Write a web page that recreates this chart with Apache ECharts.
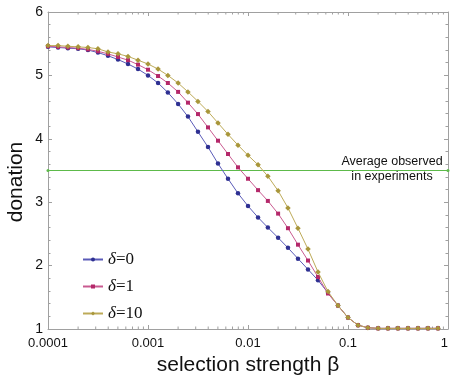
<!DOCTYPE html>
<html><head><meta charset="utf-8">
<script src="https://cdn.jsdelivr.net/npm/echarts@6/dist/echarts.min.js"></script>
<style>html,body{margin:0;padding:0;background:#fff}#c{width:451px;height:382px}</style>
</head><body><div id="c"></div>
<script>
// selection strength beta (x values)
const betas = [0.0001,0.000126,0.000158,0.0002,0.000251,0.000316,0.000398,0.000501,0.000631,0.000794,
  0.001,0.00126,0.00158,0.002,0.00251,0.00316,0.00398,0.00501,0.00631,0.00794,
  0.01,0.0126,0.0158,0.02,0.0251,0.0316,0.0398,0.0501,0.0631,0.0794,
  0.1,0.126,0.158,0.2,0.251,0.316,0.398,0.501,0.631,0.794];
const donationDelta0 = [5.45,5.44,5.43,5.42,5.40,5.36,5.31,5.25,5.18,5.10,
  5.00,4.88,4.73,4.55,4.35,4.11,3.87,3.61,3.37,3.14,
  2.94,2.76,2.60,2.44,2.28,2.11,1.94,1.77,1.57,1.37,
  1.18,1.06,1.02,1.01,1.01,1.01,1.01,1.01,1.01,1.01];
const donationDelta1 = [5.46,5.45,5.44,5.43,5.41,5.38,5.34,5.29,5.24,5.17,
  5.09,4.99,4.88,4.74,4.57,4.39,4.18,3.97,3.76,3.55,
  3.37,3.19,3.02,2.82,2.59,2.33,2.08,1.82,1.56,1.37,
  1.18,1.06,1.02,1.01,1.01,1.01,1.01,1.01,1.01,1.01];
const donationDelta10 = [5.47,5.47,5.46,5.45,5.44,5.42,5.37,5.34,5.30,5.24,
  5.18,5.10,5.00,4.88,4.74,4.59,4.43,4.25,4.07,3.90,
  3.74,3.59,3.41,3.18,2.91,2.59,2.26,1.90,1.59,1.37,
  1.18,1.06,1.02,1.01,1.01,1.01,1.01,1.01,1.01,1.01];
const seriesNames = ['δ=0','δ=1','δ=10'];
const observedAverage = 3.5;
const xRange = [0.0001, 1];
const yRange = [1, 6];
const xTickLabels = ['0.0001','0.001','0.01','0.1','1'];
const xMinorTicks = [0.0002,0.0003,0.0004,0.0005,0.0006,0.0007,0.0008,0.0009,
  0.002,0.003,0.004,0.005,0.006,0.007,0.008,0.009,
  0.02,0.03,0.04,0.05,0.06,0.07,0.08,0.09,
  0.2,0.3,0.4,0.5,0.6,0.7,0.8,0.9];

const frame = '#a0a0a0';
const markerColors = ['#2e3092','#b4286a','#a8963a'];
const lineColors = ['#5a5bb8','#c95a90','#bdaa58'];
const symbols = ['circle','rect','diamond'];
const symbolSizes = [4.5,4,5.5];
const allData = [donationDelta0, donationDelta1, donationDelta10];

const chart = echarts.init(document.getElementById('c'), null, {renderer:'canvas'});
const xAxisBase = {
  type:'log', logBase:10, min:xRange[0], max:xRange[1],
  axisLine:{show:true, lineStyle:{color:frame, width:1}},
  axisTick:{show:true, inside:true, length:4, lineStyle:{color:frame}},
  minorTick:{show:false}, splitLine:{show:false}
};
const yAxisBase = {
  type:'value', min:yRange[0], max:yRange[1], interval:1,
  axisLine:{show:true, lineStyle:{color:frame, width:1}},
  axisTick:{show:true, inside:true, length:4, lineStyle:{color:frame}},
  minorTick:{show:true, splitNumber:5, length:2.5, lineStyle:{color:frame}},
  splitLine:{show:false}
};
const series = [
  {
    type:'line', name:'avg', data:[[xRange[0],observedAverage],[xRange[1],observedAverage]],
    symbol:'circle', symbolSize:3, showSymbol:true, silent:true,
    lineStyle:{color:'#5dba4a', width:1}, itemStyle:{color:'#5dba4a'}, z:1
  },
  {
    type:'custom', silent:true, clip:false,
    data: xMinorTicks.map(v=>[v, yRange[0]]),
    encode:{x:0, y:1},
    renderItem:(params, api)=>{
      const v = api.value(0);
      const b = api.coord([v, yRange[0]]);
      const t = api.coord([v, yRange[1]]);
      return {type:'group', children:[
        {type:'line', shape:{x1:b[0],y1:b[1],x2:b[0],y2:b[1]-2.5}, style:{stroke:frame, lineWidth:1}},
        {type:'line', shape:{x1:t[0],y1:t[1],x2:t[0],y2:t[1]+2.5}, style:{stroke:frame, lineWidth:1}}
      ]};
    }
  }
];
allData.forEach((arr, i)=>{
  series.push({
    type:'line', name:seriesNames[i],
    data: betas.map((b, j)=>[b, arr[j]]),
    symbol:symbols[i], symbolSize:symbolSizes[i], showSymbol:true,
    lineStyle:{color:lineColors[i], width:1},
    itemStyle:{color:markerColors[i]},
    z: 3 + i, animation:false
  });
});

chart.setOption({
  animation:false,
  backgroundColor:'#ffffff',
  grid:{left:48, right:1, top:12, bottom:53, containLabel:false},
  xAxis:[
    Object.assign({}, xAxisBase, {
      position:'bottom',
      name:'selection strength β', nameLocation:'middle', nameGap:25,
      nameTextStyle:{fontFamily:'Liberation Sans', fontSize:21, color:'#111'},
      axisLabel:{show:true, margin:8, fontFamily:'Liberation Sans', fontSize:13, color:'#111',
        alignMaxLabel:'right',
        formatter:(v)=>xTickLabels[Math.round(Math.log10(v) - Math.log10(xRange[0]))]}
    }),
    Object.assign({}, xAxisBase, {position:'top', axisLabel:{show:false}})
  ],
  yAxis:[
    Object.assign({}, yAxisBase, {position:'left',
      axisLabel:{show:true, margin:5, fontFamily:'Liberation Sans', fontSize:14, color:'#111'}}),
    Object.assign({}, yAxisBase, {position:'right', axisLabel:{show:false}})
  ],
  legend:{
    show:true, orient:'vertical', left:77, top:246, itemGap:10,
    itemWidth:20, itemHeight:5,
    data:seriesNames,
    formatter:(name)=>'{i|δ}{n|' + name.slice(1) + '}',
    textStyle:{
      rich:{
        i:{fontFamily:'Liberation Serif', fontStyle:'italic', fontSize:17, color:'#111'},
        n:{fontFamily:'Liberation Serif', fontSize:17, color:'#111'}
      }
    }
  },
  graphic:[
    {type:'text', x:16, y:182, rotation:Math.PI/2,
      style:{text:'donation', font:'21px "Liberation Sans"', fill:'#111', textAlign:'center', textVerticalAlign:'middle'}},
    {type:'text', x:392, y:169,
      style:{text:'Average observed\nin experiments', font:'12.5px "Liberation Sans"', lineHeight:15, fill:'#111', textAlign:'center', textVerticalAlign:'middle'}}
  ],
  series: series
});
</script>
</body></html>
